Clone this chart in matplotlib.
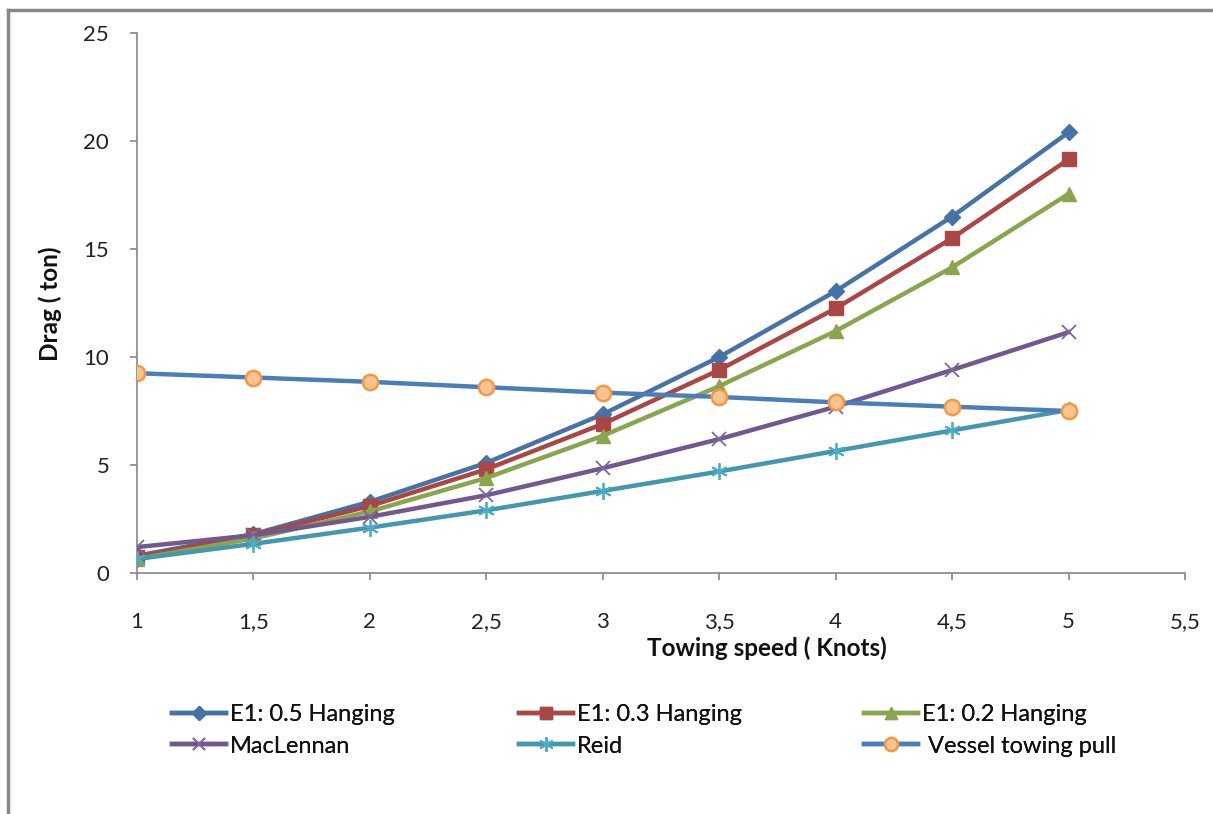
import matplotlib
matplotlib.use("Agg")
import matplotlib.pyplot as plt
from matplotlib.lines import Line2D

plt.rcParams['font.family'] = ['Lato', 'DejaVu Sans']

speed = [1, 1.5, 2, 2.5, 3, 3.5, 4, 4.5, 5]
e1_05 = [0.8, 1.8, 3.3, 5.1, 7.35, 10.0, 13.05, 16.5, 20.4]
e1_03 = [0.75, 1.75, 3.1, 4.8, 6.9, 9.4, 12.25, 15.5, 19.15]
e1_02 = [0.65, 1.6, 2.85, 4.4, 6.35, 8.65, 11.2, 14.15, 17.55]
maclennan = [1.2, 1.75, 2.6, 3.6, 4.85, 6.2, 7.7, 9.4, 11.15]
reid = [0.65, 1.35, 2.1, 2.9, 3.8, 4.7, 5.65, 6.6, 7.55]
vessel = [9.25, 9.05, 8.85, 8.6, 8.35, 8.15, 7.9, 7.7, 7.5]

labels = ["E1: 0.5 Hanging", "E1: 0.3 Hanging", "E1: 0.2 Hanging",
          "MacLennan", "Reid", " Vessel towing pull"]
xticks = [1, 1.5, 2, 2.5, 3, 3.5, 4, 4.5, 5, 5.5]
xticklabels = ["1", "1,5", "2", "2,5", "3", "3,5", "4", "4,5", "5", "5,5"]
yticks = [0, 5, 10, 15, 20, 25]

W, H = 1213, 814
fig = plt.figure(figsize=(W / 100, H / 100), dpi=100)
ax = fig.add_axes([137 / W, 1 - 573 / H, (1185 - 137) / W, (573 - 33) / H])

lw = 3.2
h1, = ax.plot(speed, e1_05, color='#4572A7', lw=lw, marker='D', ms=8, mec='#4572A7', mfc='#4572A7')
h2, = ax.plot(speed, e1_03, color='#AA4643', lw=lw, marker='s', ms=10, mec='#AA4643', mfc='#AA4643')
h3, = ax.plot(speed, e1_02, color='#89A54E', lw=lw, marker='^', ms=10, mec='#89A54E', mfc='#89A54E')
h4, = ax.plot(speed, maclennan, color='#71588F', lw=lw, marker='x', ms=10, mew=1.3, mec='#8064A2')
h5, = ax.plot(speed, reid, color='#4198AF', lw=lw, marker=(6, 2, 0), ms=12, mew=1.3, mec='#4BACC6')
h6, = ax.plot(speed, vessel, color='#4A7EBB', lw=lw, marker='o', ms=11, mec='#F79646', mfc='#F9C58F', mew=1.8)

ax.set_xlim(1, 5.5)
ax.set_ylim(0, 25)
ax.set_xticks(xticks)
ax.set_xticklabels(xticklabels)
ax.set_yticks(yticks)
for s in ['top', 'right']:
    ax.spines[s].set_visible(False)
for s in ['left', 'bottom']:
    ax.spines[s].set_color('#868686')
    ax.spines[s].set_linewidth(1.2)
ax.tick_params(axis='both', direction='out', length=5, width=1.2, color='#868686',
               labelsize=16, labelcolor='#222222')
ax.tick_params(axis='x', pad=23)
ax.tick_params(axis='y', pad=15)
for sp in ax.spines.values():
    sp.set_zorder(0)

fig.text(767 / W, 1 - 648 / H, "Towing speed ( Knots)", ha='center', va='center',
         fontsize=17.5, fontweight='bold', color='#111111')
fig.text(50 / W, 1 - 304 / H, "Drag ( ton)", ha='center', va='center', rotation=90,
         fontsize=17.5, fontweight='bold', color='#111111')

# legend in three columns
handles = [h1, h2, h3, h4, h5, h6]
cols = [(0, 3), (1, 4), (2, 5)]
xs = [172, 519, 864]
for (a, b), x0 in zip(cols, xs):
    leg = fig.legend([handles[a], handles[b]], [labels[a], labels[b]],
                     loc='upper left', bbox_to_anchor=(x0 / W, 1 - 704 / H),
                     frameon=False, fontsize=17, handlelength=2.3, handletextpad=0.15,
                     labelspacing=0.45, borderaxespad=0, borderpad=0, markerscale=0.85)
    for t in leg.get_texts():
        t.set_color('#111111')
    fig.add_artist(leg)

# outer chart border (partially visible)
fig.add_artist(Line2D([8 / W, 1.0], [1 - 10 / H, 1 - 10 / H], color='#888888', lw=2.5,
                      transform=fig.transFigure))
fig.add_artist(Line2D([8 / W, 8 / W], [1 - 10 / H, 0], color='#888888', lw=2.5,
                      transform=fig.transFigure))

fig.savefig("out.png", dpi=100, facecolor='white')
